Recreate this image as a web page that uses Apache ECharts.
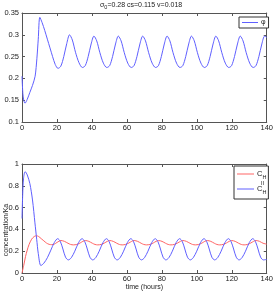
<!DOCTYPE html>
<html>
<head>
<meta charset="utf-8">
<script src="https://cdn.jsdelivr.net/npm/echarts@6/dist/echarts.min.js"></script>
<style>html,body{margin:0;padding:0;background:#fff}#c{width:276px;height:292px}</style>
</head>
<body>
<div id="c"></div>
<script>
// ---- data ----
var xTicks = [0, 20, 40, 60, 80, 100, 120, 140];
var phiTicks = [0.1, 0.15, 0.2, 0.25, 0.3, 0.35];
var concTicks = [0, 0.2, 0.4, 0.6, 0.8, 1];

var phiT = [0,0.5,1,1.7,3,4.5,6,7.5,8.5,9.3,10.2,11.5,13,14.5,16,17.5,19,20.6,
  22.2,23.9,25.6,27.2,28.8,30.6,32.6,34.55,
  36.15,37.85,39.55,41.15,42.75,44.55,46.55,48.5,
  50.1,51.8,53.5,55.1,56.7,58.5,60.5,62.45,
  64.05,65.75,67.45,69.05,70.65,72.45,74.45,76.4,
  78.0,79.7,81.4,83.0,84.6,86.4,88.4,90.35,
  91.95,93.65,95.35,96.95,98.55,100.35,102.35,104.3,
  105.9,107.6,109.3,110.9,112.5,114.3,116.3,118.25,
  119.85,121.55,123.25,124.85,126.45,128.25,130.25,132.2,
  133.8,135.5,137.2,138.8,140];
var phiV = [0.205,0.165,0.15,0.143,0.152,0.168,0.184,0.205,0.245,0.29,0.34,0.328,0.31,0.29,0.27,0.25,0.232,0.223,
  0.228,0.25,0.28,0.3,0.288,0.26,0.236,0.225,
  0.229,0.25,0.279,0.297,0.286,0.259,0.235,0.225,
  0.229,0.25,0.279,0.297,0.286,0.259,0.235,0.225,
  0.229,0.25,0.279,0.297,0.286,0.259,0.235,0.225,
  0.229,0.25,0.279,0.297,0.286,0.259,0.235,0.225,
  0.229,0.25,0.279,0.297,0.286,0.259,0.235,0.225,
  0.229,0.25,0.279,0.297,0.286,0.259,0.235,0.225,
  0.229,0.25,0.279,0.297,0.286,0.259,0.235,0.225,
  0.229,0.25,0.279,0.297,0.294];

var chT = [0,1,2,3,4,5.5,7,8.3,9.5,11,12.5,14,15.5,17,18.5,20,22.3,
  24.3,26.3,27.8,29.4,31.3,33.3,34.8,36.25,
  38.25,40.25,41.75,43.35,45.25,47.25,48.75,50.2,
  52.2,54.2,55.7,57.3,59.2,61.2,62.7,64.15,
  66.15,68.15,69.65,71.25,73.15,75.15,76.65,78.1,
  80.1,82.1,83.6,85.2,87.1,89.1,90.6,92.05,
  94.05,96.05,97.55,99.15,101.05,103.05,104.55,106.0,
  108,110,111.5,113.1,115,117,118.5,119.95,
  121.95,123.95,125.45,127.05,128.95,130.95,132.45,133.9,
  135.9,137.9,140];
var chV = [0,0.07,0.15,0.21,0.26,0.31,0.335,0.342,0.335,0.315,0.295,0.275,0.263,0.26,0.265,0.28,0.298,
  0.29,0.273,0.262,0.258,0.262,0.276,0.29,0.298,
  0.29,0.273,0.262,0.258,0.262,0.276,0.29,0.298,
  0.29,0.273,0.262,0.258,0.262,0.276,0.29,0.298,
  0.29,0.273,0.262,0.258,0.262,0.276,0.29,0.298,
  0.29,0.273,0.262,0.258,0.262,0.276,0.29,0.298,
  0.29,0.273,0.262,0.258,0.262,0.276,0.29,0.298,
  0.29,0.273,0.262,0.258,0.262,0.276,0.29,0.298,
  0.29,0.273,0.262,0.258,0.262,0.276,0.29,0.298,
  0.29,0.273,0.265];

var chiiT = [0,0.4,0.9,1.8,3,4.5,6,7.4,8.4,9.3,10.8,12.5,14.5,16.5,18.5,20.4,
  21.9,23.4,24.9,26.5,28.2,30.2,32.4,34.35,
  35.85,37.35,38.85,40.45,42.15,44.15,46.35,48.3,
  49.8,51.3,52.8,54.4,56.1,58.1,60.3,62.25,
  63.75,65.25,66.75,68.35,70.05,72.05,74.25,76.2,
  77.7,79.2,80.7,82.3,84.0,86.0,88.2,90.15,
  91.65,93.15,94.65,96.25,97.95,99.95,102.15,104.1,
  105.6,107.1,108.6,110.2,111.9,113.9,116.1,118.05,
  119.55,121.05,122.55,124.15,125.85,127.85,130.05,132.0,
  133.5,135.0,136.5,138.1,140];
var chiiV = [0.5,0.72,0.87,0.93,0.9,0.82,0.67,0.46,0.31,0.18,0.068,0.09,0.14,0.21,0.28,0.315,
  0.29,0.22,0.145,0.12,0.14,0.2,0.28,0.315,
  0.29,0.22,0.145,0.12,0.14,0.2,0.28,0.315,
  0.29,0.22,0.145,0.12,0.14,0.2,0.28,0.315,
  0.29,0.22,0.145,0.12,0.14,0.2,0.28,0.315,
  0.29,0.22,0.145,0.12,0.14,0.2,0.28,0.315,
  0.29,0.22,0.145,0.12,0.14,0.2,0.28,0.315,
  0.29,0.22,0.145,0.12,0.14,0.2,0.28,0.315,
  0.29,0.22,0.145,0.12,0.14,0.2,0.28,0.315,
  0.29,0.22,0.145,0.12,0.125];

function pairs(t, v) { return t.map(function (x, i) { return [x, v[i]]; }); }

var FONT = 'Liberation Sans, Arial, sans-serif';
var TXT = '#222';
var AX = '#555';
var BLUE = '#5f5fff';
var RED = '#ff6464';

function xAx(gi, bottom, withName) {
  return {
    type: 'value', gridIndex: gi, position: bottom ? 'bottom' : 'top',
    min: xTicks[0], max: xTicks[xTicks.length - 1], interval: xTicks[1] - xTicks[0],
    axisLine: { show: true, onZero: false, lineStyle: { color: AX, width: 1 } },
    axisTick: { show: true, inside: true, length: 3, lineStyle: { color: AX } },
    axisLabel: { show: bottom, fontSize: 7.5, color: TXT, fontFamily: FONT, margin: 2 },
    splitLine: { show: false },
    name: withName ? 'time (hours)' : '', nameLocation: 'middle', nameGap: 9,
    nameTextStyle: { fontSize: 7, color: TXT, fontFamily: FONT }
  };
}
function yAx(gi, left, ticks) {
  return {
    type: 'value', gridIndex: gi, position: left ? 'left' : 'right',
    min: ticks[0], max: ticks[ticks.length - 1],
    interval: Math.round((ticks[1] - ticks[0]) * 1000) / 1000,
    axisLine: { show: true, onZero: false, lineStyle: { color: AX, width: 1 } },
    axisTick: { show: true, inside: true, length: 3, lineStyle: { color: AX } },
    axisLabel: { show: left, fontSize: 7.5, color: TXT, fontFamily: FONT, margin: 3 },
    splitLine: { show: false }
  };
}

var chart = echarts.init(document.getElementById('c'), null, { renderer: 'canvas' });
chart.setOption({
  animation: false,
  backgroundColor: '#fff',
  textStyle: { fontFamily: FONT },
  title: {
    text: '{a|σ}{s|0}{a|=0.28 cs=0.115 v=0.018}',
    left: 100, top: 0, padding: 0,
    textStyle: {
      fontWeight: 'normal',
      rich: {
        a: { fontSize: 7, color: TXT, fontFamily: FONT, fontWeight: 'normal' },
        s: { fontSize: 5.5, color: TXT, fontFamily: FONT, fontWeight: 'normal', padding: [4, 0, 0, 0] }
      }
    }
  },
  grid: [
    { left: 22, top: 13, width: 247, height: 109 },
    { left: 22, top: 164, width: 247, height: 109 }
  ],
  xAxis: [xAx(0, true, false), xAx(0, false, false), xAx(1, true, true), xAx(1, false, false)],
  yAxis: [yAx(0, true, phiTicks), yAx(0, false, phiTicks), yAx(1, true, concTicks), yAx(1, false, concTicks)],
  legend: [
    {
      data: [{ name: 'φ', icon: 'rect' }], orient: 'vertical', left: 239, top: 17,
      padding: [2, 3, 2, 3], itemWidth: 16, itemHeight: 1, itemGap: 4,
      borderColor: '#333', borderWidth: 1, borderRadius: 0, backgroundColor: '#fff',
      textStyle: { fontSize: 7, color: TXT, fontFamily: FONT, padding: [0, 0, 0, -2] }
    },
    {
      data: [{ name: 'CH', icon: 'rect' }, { name: 'CHII', icon: 'rect' }], orient: 'vertical', left: 234, top: 166,
      padding: [4, 2, 4, 3], itemWidth: 17, itemHeight: 1, itemGap: 5,
      borderColor: '#333', borderWidth: 1, borderRadius: 0, backgroundColor: '#fff',
      formatter: function () { return '{c|C}{s|H}'; },
      textStyle: {
        color: TXT, fontFamily: FONT, padding: [0, 0, 0, -2],
        rich: {
          c: { fontSize: 7.5, color: TXT, fontFamily: FONT },
          s: { fontSize: 5.5, color: TXT, fontFamily: FONT, padding: [6, 0, 0, 0] }
        }
      }
    }
  ],
  graphic: [
    { type: 'text', left: 261, top: 180, z: 200, zlevel: 1, style: { text: 'II', fontSize: 5.5, fill: TXT, fontFamily: FONT } },
    { type: 'text', x: 6, y: 230, rotation: Math.PI / 2,
      style: { text: 'concentration/Ka', fontSize: 7, fill: TXT, fontFamily: FONT, align: 'center', verticalAlign: 'middle' } }
  ],
  series: [
    { name: 'φ', type: 'line', xAxisIndex: 0, yAxisIndex: 0, data: pairs(phiT, phiV),
      symbol: 'none', smooth: 0.3, lineStyle: { color: BLUE, width: 1 }, itemStyle: { color: BLUE } },
    { name: 'CH', type: 'line', xAxisIndex: 2, yAxisIndex: 2, data: pairs(chT, chV),
      symbol: 'none', smooth: 0.3, lineStyle: { color: RED, width: 1 }, itemStyle: { color: RED } },
    { name: 'CHII', type: 'line', xAxisIndex: 2, yAxisIndex: 2, data: pairs(chiiT, chiiV),
      symbol: 'none', smooth: 0.3, lineStyle: { color: BLUE, width: 1 }, itemStyle: { color: BLUE } }
  ]
});
</script>
</body>
</html>
